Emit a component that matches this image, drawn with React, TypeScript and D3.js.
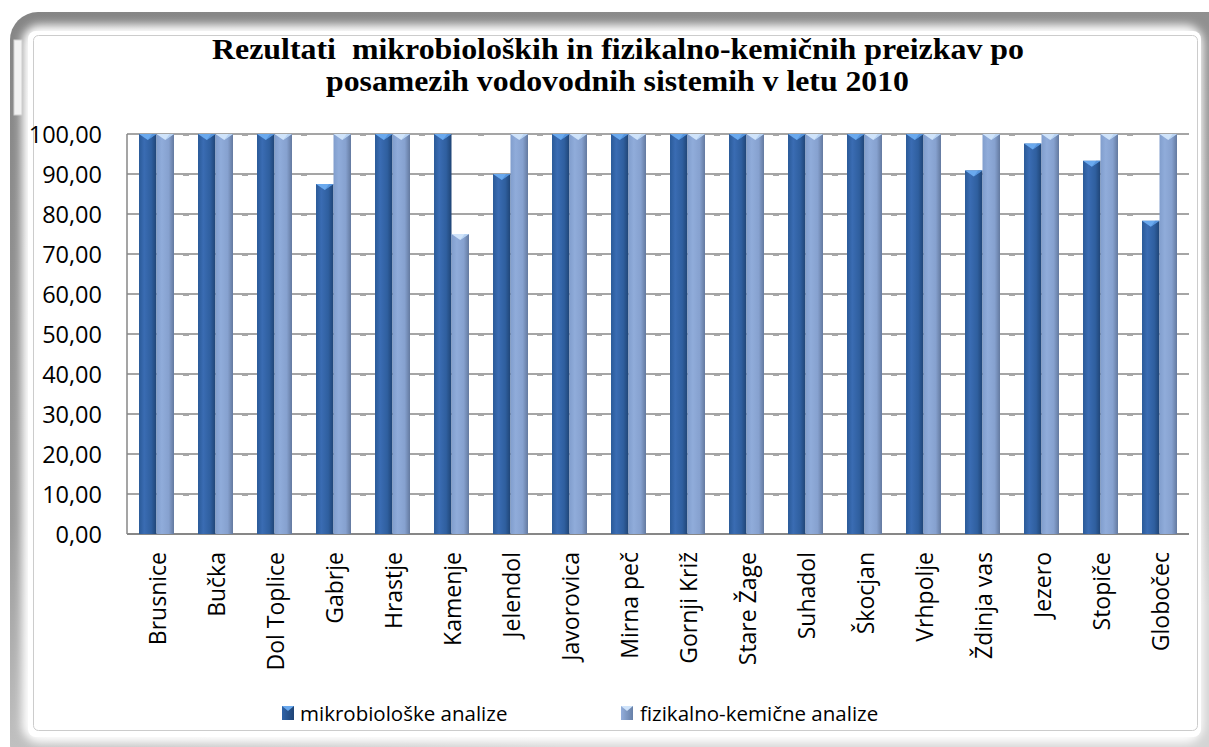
import * as d3 from "d3";

const categories = [
  "Brusnice", "Bučka", "Dol Toplice", "Gabrje", "Hrastje", "Kamenje",
  "Jelendol", "Javorovica", "Mirna peč", "Gornji Križ", "Stare Žage",
  "Suhadol", "Škocjan", "Vrhpolje", "Ždinja vas", "Jezero", "Stopiče", "Globočec",
];
const mikro = [100, 100, 100, 87.5, 100, 100, 90, 100, 100, 100, 100, 100, 100, 100, 90.9, 97.6, 93.3, 78.3];
const fiz = [100, 100, 100, 100, 100, 75, 100, 100, 100, 100, 100, 100, 100, 100, 100, 100, 100, 100];
const seriesNames = ["mikrobiološke analize", "fizikalno-kemične analize"];
const yTicks = [0, 10, 20, 30, 40, 50, 60, 70, 80, 90, 100];
const titleLines = [
  "Rezultati  mikrobioloških in fizikalno-kemičnih preizkav po",
  "posamezih vodovodnih sistemih v letu 2010",
];

const W = 1209;
const H = 747;
const PLOT = { left: 127, right: 1189, top: 134, bottom: 534 };

const SERIES = [
  { key: "m", values: mikro, grad: "gDark", tip: "#6aa9ee", tipDark: "#4b88d2", marker: "mDark" },
  { key: "f", values: fiz, grad: "gLight", tip: "#cfe3fa", tipDark: "#a9c8ef", marker: "mLight" },
];

const fmt = (v: number) => v.toFixed(2).replace(".", ",");

export default function App() {
  const x = d3
    .scaleBand<string>()
    .domain(categories)
    .range([PLOT.left, PLOT.right])
    .paddingInner(0.407)
    .paddingOuter(0.2035);
  const inner = d3.scaleBand<string>().domain(SERIES.map((s) => s.key)).range([0, x.bandwidth()]);
  const y = d3.scaleLinear().domain([0, 100]).range([PLOT.bottom, PLOT.top]);
  const bw = inner.bandwidth();

  // small step in each gridline inside the gaps between clusters
  const gaps = categories.slice(0, -1).map((c) => (x(c) ?? 0) + x.bandwidth() + (x.step() - x.bandwidth()) / 2);

  return (
    <div style={{ position: "absolute", left: 0, top: 0 }}>
      <svg width={W} height={H} style={{ display: "block", background: "#fff" }}>
        <defs>
          <linearGradient id="gDark" x1="0" x2="1" y1="0" y2="0">
            <stop offset="0" stopColor="#2a5a98" />
            <stop offset="0.3" stopColor="#3a6cb3" />
            <stop offset="0.7" stopColor="#2f5f9f" />
            <stop offset="1" stopColor="#1f4475" />
          </linearGradient>
          <linearGradient id="gLight" x1="0" x2="1" y1="0" y2="0">
            <stop offset="0" stopColor="#819ecd" />
            <stop offset="0.3" stopColor="#90acda" />
            <stop offset="0.7" stopColor="#86a1cf" />
            <stop offset="1" stopColor="#63799f" />
          </linearGradient>
          <linearGradient id="mDark" x1="0" x2="1" y1="0" y2="0">
            <stop offset="0" stopColor="#2f63a8" />
            <stop offset="1" stopColor="#1f4475" />
          </linearGradient>
          <linearGradient id="mLight" x1="0" x2="1" y1="0" y2="0">
            <stop offset="0" stopColor="#93aedb" />
            <stop offset="1" stopColor="#6780a8" />
          </linearGradient>
          <linearGradient id="frameG" x1="0" x2="0.35" y1="0" y2="1">
            <stop offset="0" stopColor="#858585" />
            <stop offset="0.6" stopColor="#9a9a9a" />
            <stop offset="1" stopColor="#d4d4d4" />
          </linearGradient>
          <filter id="blurIn" x="-5%" y="-5%" width="110%" height="110%">
            <feGaussianBlur stdDeviation="5" />
          </filter>
        </defs>

        {/* outer rounded frame with soft grey edge */}
        <rect x={10} y={12} width={1230} height={760} rx={28} fill="url(#frameG)" />
        <rect x={22} y={25} width={1181} height={718} rx={18} fill="#fff" filter="url(#blurIn)" />
        <rect x={28} y={31} width={1173} height={706} rx={8} fill="#fff" />
        <rect x={14} y={40} width={8} height={75} fill="#f2f2f2" stroke="#cfcfcf" strokeWidth={1} />
        <rect x={33.5} y={35.5} width={1164} height={695} rx={5} fill="none" stroke="#cccccc" strokeWidth={1} />

        {/* title */}
        {titleLines.map((line, i) => (
          <text
            key={line}
            x={i === 0 ? 618 : 617.5}
            y={i === 0 ? 59 : 91}
            textAnchor="middle"
            textLength={i === 0 ? 812 : 583}
            lengthAdjust="spacingAndGlyphs"
            style={{ font: "bold 30px 'Liberation Serif', serif", whiteSpace: "pre" }}
            fill="#000"
          >
            {line}
          </text>
        ))}

        {/* gridlines */}
        {yTicks.map((t) => (
          <g key={t}>
            <line
              x1={PLOT.left}
              x2={PLOT.right}
              y1={y(t)}
              y2={y(t)}
              stroke="#878787"
              strokeWidth={t === 0 ? 2 : 1.5}
            />
            {t > 0 &&
              gaps.map((g) => (
                <line key={g} x1={g - 3} x2={g + 3} y1={y(t) + 1.5} y2={y(t) + 1.5} stroke="#a8a8a8" strokeWidth={1} />
              ))}
          </g>
        ))}
        <line x1={PLOT.left} x2={PLOT.left} y1={PLOT.top} y2={PLOT.bottom} stroke="#878787" strokeWidth={1.5} />

        {/* y labels */}
        {yTicks.map((t) => (
          <text
            key={`l${t}`}
            x={102}
            y={y(t) + 8.5}
            textAnchor="end"
            style={{ font: "23.5px 'Open Sans', sans-serif" }}
            fill="#000"
          >
            {fmt(t)}
          </text>
        ))}

        {/* bars */}
        {categories.map((c, i) => (
          <g key={c}>
            {SERIES.map((s) => {
              const x0 = (x(c) ?? 0) + (inner(s.key) ?? 0);
              const top = y(s.values[i]);
              return (
                <g key={s.key}>
                  <rect x={x0} y={top} width={bw} height={PLOT.bottom - top} fill={`url(#${s.grad})`} />
                  <path
                    d={`M${x0},${top}L${x0 + bw},${top}L${x0 + bw / 2},${top + 6}Z`}
                    fill={s.tip}
                  />
                  <path d={`M${x0 + bw / 2},${top + 6}L${x0 + bw},${top}L${x0 + bw * 0.75},${top}Z`} fill={s.tipDark} opacity={0.6} />
                </g>
              );
            })}
          </g>
        ))}

        {/* category labels */}
        {categories.map((c) => {
          const cx = (x(c) ?? 0) + x.bandwidth() / 2;
          return (
            <text
              key={`c${c}`}
              transform={`translate(${cx + 9},552) rotate(-90)`}
              textAnchor="end"
              style={{ font: "23px 'Open Sans', sans-serif" }}
              fill="#000"
            >
              {c}
            </text>
          );
        })}

        {/* legend */}
        {[
          { mx: 282, tx: 300 },
          { mx: 621, tx: 640 },
        ].map((p, i) => (
          <g key={`lg${i}`}>
            <rect x={p.mx} y={706} width={12} height={14} fill={`url(#${SERIES[i].marker})`} />
            <path d={`M${p.mx},706L${p.mx + 12},706L${p.mx + 6},711Z`} fill={SERIES[i].tip} />
            <text x={p.tx} y={721} style={{ font: "20.5px 'Open Sans', sans-serif" }} fill="#000">
              {seriesNames[i]}
            </text>
          </g>
        ))}
      </svg>
    </div>
  );
}
